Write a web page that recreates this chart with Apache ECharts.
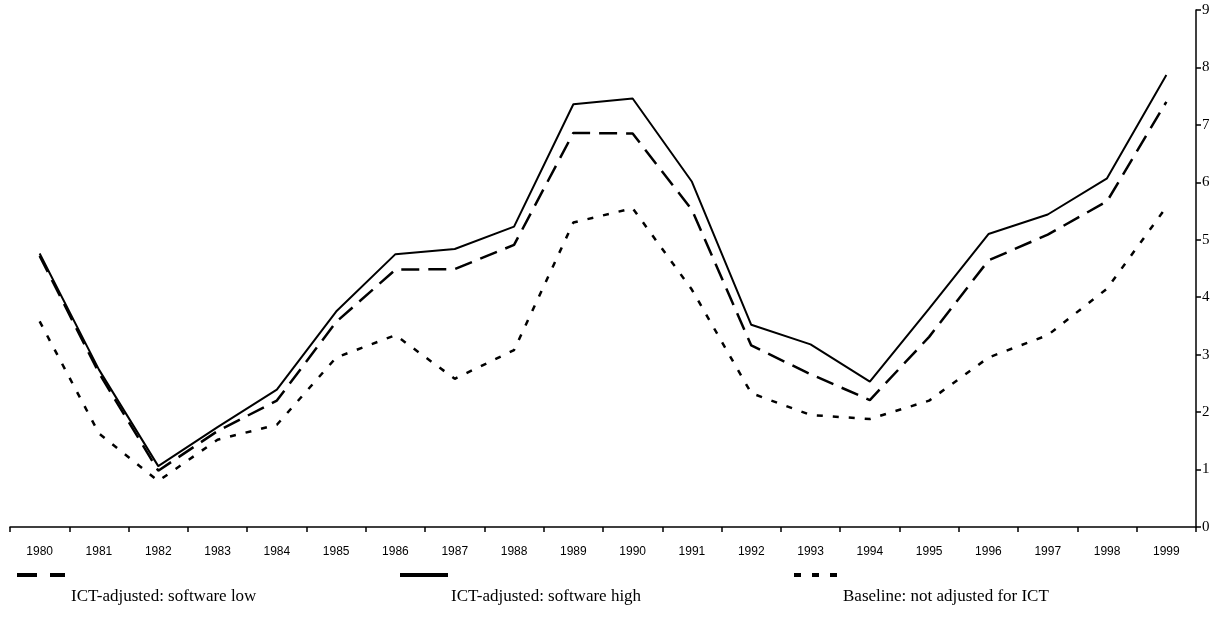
<!DOCTYPE html>
<html>
<head>
<meta charset="utf-8">
<script src="https://cdn.jsdelivr.net/npm/echarts@6/dist/echarts.min.js"></script>
<style>html,body{margin:0;padding:0;background:#fff;}#c{width:1222px;height:620px;}</style>
</head>
<body>
<div id="c"></div>
<script>
const years = ['1980','1981','1982','1983','1984','1985','1986','1987','1988','1989','1990','1991','1992','1993','1994','1995','1996','1997','1998','1999'];
const nameLow = 'ICT-adjusted: software low';
const nameHigh = 'ICT-adjusted: software high';
const nameBase = 'Baseline: not adjusted for ICT';
const softwareLow = [4.72, 2.68, 0.98, 1.67, 2.20, 3.57, 4.48, 4.49, 4.91, 6.86, 6.85, 5.52, 3.16, 2.66, 2.21, 3.31, 4.64, 5.09, 5.67, 7.40];
const softwareHigh = [4.76, 2.74, 1.06, 1.74, 2.39, 3.75, 4.75, 4.84, 5.23, 7.36, 7.46, 6.01, 3.52, 3.18, 2.53, 3.80, 5.10, 5.44, 6.07, 7.87];
const baseline = [3.58, 1.63, 0.80, 1.52, 1.78, 2.95, 3.34, 2.58, 3.08, 5.30, 5.55, 4.13, 2.33, 1.95, 1.88, 2.20, 2.95, 3.34, 4.15, 5.57];
const yTicks = [0, 9, 1];

const chart = echarts.init(document.getElementById('c'), null, {renderer: 'canvas'});
const serif = 'Liberation Serif, Times New Roman, serif';
// icon-only legend entries
function legendIcon(name, left, lineStyle) {
  return {
    data: [name], left: left, top: 571, padding: 0,
    itemWidth: 48, itemHeight: 8, selectedMode: false,
    formatter: function () { return ''; },
    textStyle: {fontSize: 1},
    itemStyle: {opacity: 0, borderWidth: 0},
    lineStyle: lineStyle
  };
}
// text-only legend entries
function legendLabel(name, left) {
  return {
    data: [name], left: left, top: 588, padding: 0,
    itemWidth: 48, itemHeight: 8, selectedMode: false,
    textStyle: {fontFamily: serif, fontSize: 17, color: '#000'},
    itemStyle: {opacity: 0, borderWidth: 0},
    lineStyle: {opacity: 0}
  };
}
chart.setOption({
  animation: false,
  backgroundColor: '#fff',
  grid: {left: 10, right: 26, top: 10, bottom: 93, containLabel: false},
  legend: [
    legendIcon(nameLow, 15, {width: 4, type: [20, 13], color: '#000', cap: 'butt'}),
    legendIcon(nameHigh, 398, {width: 4, type: 'solid', color: '#000'}),
    legendIcon(nameBase, 792, {width: 4, type: [7, 11], color: '#000', cap: 'butt'}),
    legendLabel(nameLow, 17),
    legendLabel(nameHigh, 397),
    legendLabel(nameBase, 789)
  ],
  xAxis: {
    type: 'category', data: years, boundaryGap: true,
    axisLine: {show: true, onZero: false, lineStyle: {color: '#000', width: 1.5}},
    axisTick: {show: true, inside: false, length: 5, alignWithLabel: false, lineStyle: {color: '#000', width: 1.5}},
    axisLabel: {margin: 19, color: '#000', fontFamily: 'Liberation Sans, Arial, sans-serif', fontSize: 12},
    splitLine: {show: false}
  },
  yAxis: {
    type: 'value', position: 'right', min: yTicks[0], max: yTicks[1], interval: yTicks[2],
    axisLine: {show: true, lineStyle: {color: '#000', width: 1.5}},
    axisTick: {show: true, inside: false, length: 5, lineStyle: {color: '#000', width: 1.5}},
    axisLabel: {margin: 6, color: '#000', fontFamily: serif, fontSize: 15},
    splitLine: {show: false}
  },
  series: [
    {name: nameLow, type: 'line', data: softwareLow, symbol: 'none', z: 3,
     lineStyle: {color: '#000', width: 2.5, type: [18, 9], cap: 'butt'}, itemStyle: {color: '#000'}},
    {name: nameHigh, type: 'line', data: softwareHigh, symbol: 'none', z: 4,
     lineStyle: {color: '#000', width: 2, type: 'solid'}, itemStyle: {color: '#000'}},
    {name: nameBase, type: 'line', data: baseline, symbol: 'none', z: 2,
     lineStyle: {color: '#000', width: 2.5, type: [6, 10], cap: 'butt'}, itemStyle: {color: '#000'}}
  ]
});
</script>
</body>
</html>
